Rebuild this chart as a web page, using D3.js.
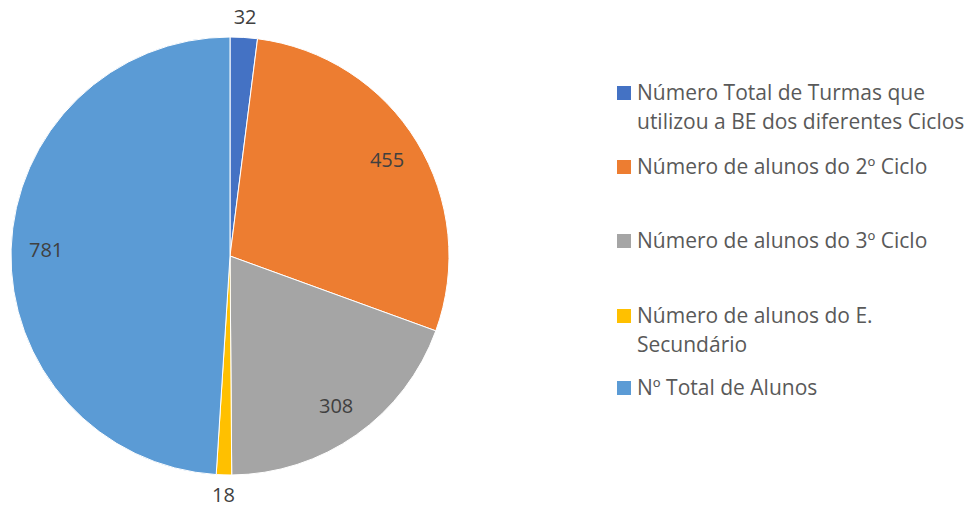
<!DOCTYPE html>
<html>
<head>
<meta charset="utf-8">
<script src="https://cdn.jsdelivr.net/npm/d3@7"></script>
<style>
  body { margin: 0; background: #fff; }
  svg text { font-family: "Open Sans", Lato, sans-serif; }
</style>
</head>
<body>
<div id="wrapper"></div>
<script>
// data
const categories = [
  "Número Total de Turmas que utilizou a BE dos diferentes Ciclos",
  "Número de alunos do 2º Ciclo",
  "Número de alunos do 3º Ciclo",
  "Número de alunos do E. Secundário",
  "Nº Total de Alunos",
]
const values = [32, 455, 308, 18, 781]
// legend text split as in the chart
const legendLines = [
  ["Número Total de Turmas que", "utilizou a BE dos diferentes Ciclos"],
  ["Número de alunos do 2º Ciclo"],
  ["Número de alunos do 3º Ciclo"],
  ["Número de alunos do E.", "Secundário"],
  ["Nº Total de Alunos"],
]
const colors = ["#4472C4", "#ED7D31", "#A5A5A5", "#FFC000", "#5B9BD5"]

const dims = { width: 970, height: 508 }
const radius = 219
const center = { x: 230, y: 256 }

const svg = d3.select("#wrapper")
  .append("svg")
    .attr("width", dims.width)
    .attr("height", dims.height)

const data = values.map((v, i) => ({ name: categories[i], value: v, i }))

const pie = d3.pie()
  .value(d => d.value)
  .sort(null)

const arcs = pie(data)
const total = d3.sum(values)

const arc = d3.arc().innerRadius(0).outerRadius(radius)

const bounds = svg.append("g")
  .attr("transform", `translate(${center.x},${center.y})`)

bounds.selectAll("path")
  .data(arcs)
  .join("path")
    .attr("d", arc)
    .attr("fill", d => colors[d.data.i])
    .attr("stroke", "#fff")
    .attr("stroke-width", 1)

// small slices get their label outside
const labelArc = d => {
  const r = d.data.value / total < 0.05 ? radius + 20 : radius * 0.84
  return d3.arc().innerRadius(r).outerRadius(r).centroid(d)
}

bounds.selectAll(".label")
  .data(arcs)
  .join("text")
    .attr("class", "label")
    .attr("transform", d => `translate(${labelArc(d)})`)
    .attr("text-anchor", "middle")
    .attr("dy", "0.35em")
    .attr("font-size", 20)
    .attr("fill", "#404040")
    .text(d => d.data.value)

// legend
const legendY = [93, 167, 241, 316, 388]
const lineH = 29
const legend = svg.append("g")
  .attr("transform", "translate(617,0)")

const items = legend.selectAll("g")
  .data(data)
  .join("g")
    .attr("transform", (d, i) => `translate(0,${legendY[i]})`)

items.append("rect")
  .attr("x", 0)
  .attr("y", -7)
  .attr("width", 14)
  .attr("height", 14)
  .attr("fill", d => colors[d.i])

items.append("text")
  .attr("font-size", 21)
  .attr("fill", "#595959")
  .selectAll("tspan")
  .data(d => legendLines[d.i])
  .join("tspan")
    .attr("x", 20)
    .attr("y", (d, j) => j * lineH)
    .attr("dy", "0.35em")
    .text(d => d)
</script>
</body>
</html>
